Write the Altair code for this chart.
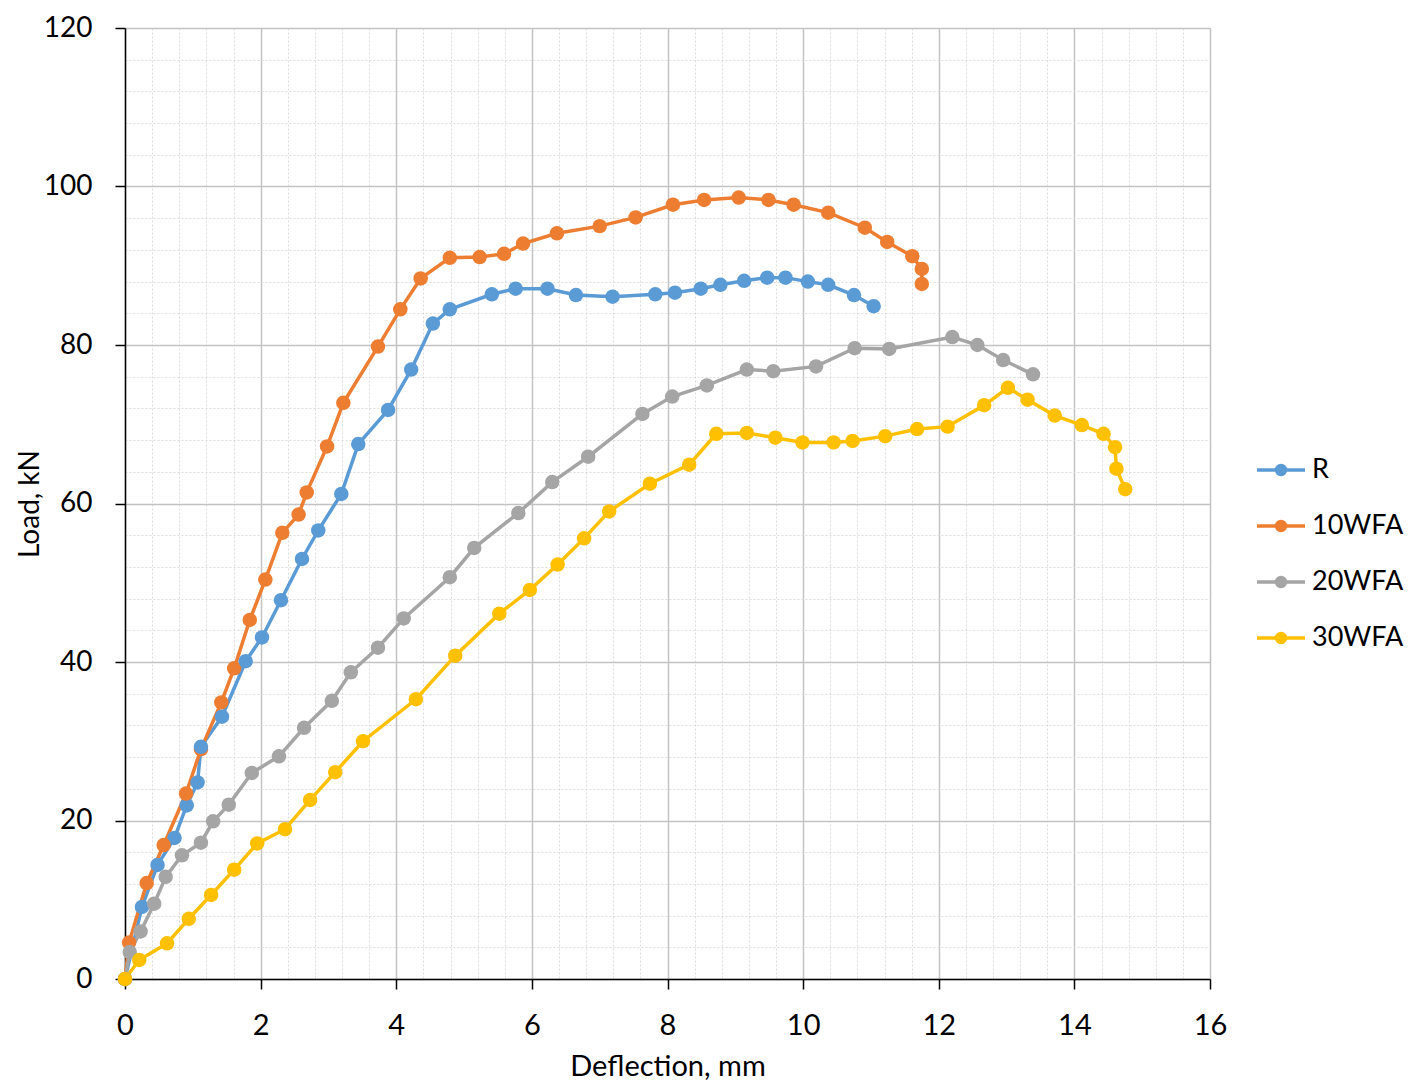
import altair as alt
import pandas as pd

# ---- data ----
series_names = ["R", "10WFA", "20WFA", "30WFA"]
series_colors = ["#5B9BD5", "#ED7D31", "#A5A5A5", "#FFC000"]

R_x = [0, 0.25, 0.48, 0.73, 0.91, 1.07, 1.12, 1.43, 1.78, 2.02, 2.30, 2.61, 2.85, 3.19, 3.44,
       3.88, 4.22, 4.54, 4.79, 5.41, 5.76, 6.23, 6.65, 7.19, 7.82, 8.11, 8.49, 8.78, 9.13,
       9.47, 9.74, 10.07, 10.37, 10.75, 11.04]
R_y = [0, 9.1, 14.4, 17.8, 21.9, 24.8, 29.3, 33.1, 40.1, 43.1, 47.8, 53.0, 56.6, 61.2, 67.5,
       71.8, 76.9, 82.7, 84.5, 86.4, 87.1, 87.1, 86.3, 86.1, 86.4, 86.6, 87.1, 87.6, 88.1,
       88.5, 88.5, 88.0, 87.6, 86.3, 84.9]

W10_x = [0, 0.06, 0.32, 0.57, 0.90, 1.12, 1.42, 1.61, 1.84, 2.07, 2.32, 2.56, 2.68, 2.98, 3.22,
         3.73, 4.06, 4.36, 4.79, 5.23, 5.59, 5.87, 6.37, 7.00, 7.53, 8.08, 8.54, 9.05, 9.49,
         9.86, 10.37, 10.91, 11.24, 11.61, 11.75, 11.75]
W10_y = [0, 4.6, 12.1, 16.9, 23.4, 29.0, 34.9, 39.2, 45.3, 50.4, 56.3, 58.6, 61.4, 67.2, 72.7,
         79.8, 84.5, 88.4, 91.0, 91.1, 91.5, 92.8, 94.1, 95.0, 96.1, 97.7, 98.3, 98.6, 98.3,
         97.7, 96.7, 94.8, 93.0, 91.2, 89.6, 87.7]

W20_x = [0, 0.07, 0.23, 0.43, 0.60, 0.84, 1.12, 1.30, 1.53, 1.87, 2.27, 2.64, 3.05, 3.33, 3.73,
         4.11, 4.79, 5.15, 5.80, 6.30, 6.83, 7.63, 8.07, 8.58, 9.17, 9.56, 10.19, 10.76, 11.27,
         12.20, 12.57, 12.95, 13.39]
W20_y = [0, 3.4, 6.0, 9.5, 12.9, 15.6, 17.2, 19.9, 22.0, 26.0, 28.1, 31.7, 35.1, 38.7, 41.8,
         45.5, 50.7, 54.4, 58.8, 62.7, 65.9, 71.3, 73.5, 74.9, 76.9, 76.7, 77.3, 79.6, 79.5,
         81.0, 80.0, 78.1, 76.3]

W30_x = [0, 0.21, 0.62, 0.94, 1.27, 1.61, 1.95, 2.36, 2.73, 3.10, 3.51, 4.29, 4.87, 5.52, 5.97,
         6.38, 6.77, 7.14, 7.74, 8.32, 8.72, 9.17, 9.59, 9.99, 10.45, 10.73, 11.21, 11.68, 12.13,
         12.67, 13.02, 13.31, 13.71, 14.11, 14.43, 14.60, 14.62, 14.75]
W30_y = [0, 2.4, 4.5, 7.6, 10.6, 13.8, 17.1, 18.9, 22.6, 26.1, 30.0, 35.3, 40.8, 46.1, 49.1,
         52.3, 55.6, 59.0, 62.5, 64.9, 68.8, 68.9, 68.3, 67.7, 67.7, 67.9, 68.5, 69.4, 69.7,
         72.4, 74.6, 73.1, 71.1, 69.9, 68.8, 67.1, 64.4, 61.8]

x_ticks = [round(i * 0.4, 1) for i in range(41)]   # major every 2, minor every 0.4
y_ticks = [i * 4 for i in range(31)]                # major every 20, minor every 4

rows = []
for name, xs, ys in zip(series_names, [R_x, W10_x, W20_x, W30_x], [R_y, W10_y, W20_y, W30_y]):
    for i, (xv, yv) in enumerate(zip(xs, ys)):
        rows.append({"series": name, "x": xv, "y": yv, "idx": i})
df = pd.DataFrame(rows)

FONT = "Lato"

x_axis = alt.Axis(
    values=x_ticks, orient="bottom", grid=True,
    gridColor={"condition": {"test": "datum.value % 2 !== 0", "value": "#DCDCDC"}, "value": "#C3C3C3"},
    gridDash={"condition": {"test": "datum.value % 2 !== 0", "value": [2, 2]}, "value": []},
    gridWidth={"condition": {"test": "datum.value % 2 !== 0", "value": 1}, "value": 1.5},
    tickColor={"condition": {"test": "datum.value % 2 !== 0", "value": "transparent"}, "value": "black"},
    tickSize=10, tickWidth=1.5, domainColor="black", domainWidth=1.5,
    labelExpr="datum.value % 2 === 0 ? format(datum.value, 'd') : ''",
    labelOverlap=False, labelFlush=False, labelFont=FONT, labelFontSize=29, labelColor="black",
    labelPadding=22, title="Deflection, mm", titleFont=FONT, titleFontSize=29,
    titleFontWeight="normal", titleColor="black", titlePadding=12,
)
y_axis = alt.Axis(
    values=y_ticks, orient="left", grid=True,
    gridColor={"condition": {"test": "datum.value % 20 !== 0", "value": "#DCDCDC"}, "value": "#C3C3C3"},
    gridDash={"condition": {"test": "datum.value % 20 !== 0", "value": [2, 2]}, "value": []},
    gridWidth={"condition": {"test": "datum.value % 20 !== 0", "value": 1}, "value": 1.5},
    tickColor={"condition": {"test": "datum.value % 20 !== 0", "value": "transparent"}, "value": "black"},
    tickSize=10, tickWidth=1.5, domainColor="black", domainWidth=1.5,
    labelExpr="datum.value % 20 === 0 ? format(datum.value, 'd') : ''",
    labelOverlap=False, labelFlush=False, labelFont=FONT, labelFontSize=28, labelColor="black",
    labelPadding=23, title="Load, kN", titleFont=FONT, titleFontSize=28,
    titleFontWeight="normal", titleColor="black", titlePadding=-1,
)

legend_symbol = ("M-1,0H1"
                 "M0.1875,0A0.1875,0.1875,0,1,1,-0.1875,0A0.1875,0.1875,0,1,1,0.1875,0"
                 "M0.0625,0A0.0625,0.0625,0,1,1,-0.0625,0A0.0625,0.0625,0,1,1,0.0625,0")

chart = alt.Chart(df).mark_line(
    strokeWidth=3.5,
    point=alt.OverlayMarkDef(filled=True, size=210, opacity=1),
).encode(
    x=alt.X("x:Q", scale=alt.Scale(domain=[0, 16], nice=False, zero=False), axis=x_axis),
    y=alt.Y("y:Q", scale=alt.Scale(domain=[0, 120], nice=False), axis=y_axis),
    color=alt.Color(
        "series:N",
        scale=alt.Scale(domain=series_names, range=series_colors),
        sort=series_names,
        legend=alt.Legend(
            title=None, orient="none", legendX=1130, legendY=416, padding=0,
            symbolType=legend_symbol, symbolSize=2304, symbolStrokeWidth=3.5,
            rowPadding=17, labelOffset=5, labelFont=FONT, labelFontSize=27,
            labelColor="black",
        ),
    ),
    order=alt.Order("idx:Q"),
).properties(
    width=1085, height=951,
    autosize=alt.AutoSizeParams(type="none"),
    padding={"left": 117, "top": 20, "right": 199, "bottom": 107},
).configure_view(stroke=None).configure(background="white")

chart.save("out.html", embed_options={"renderer": "svg", "actions": False})
